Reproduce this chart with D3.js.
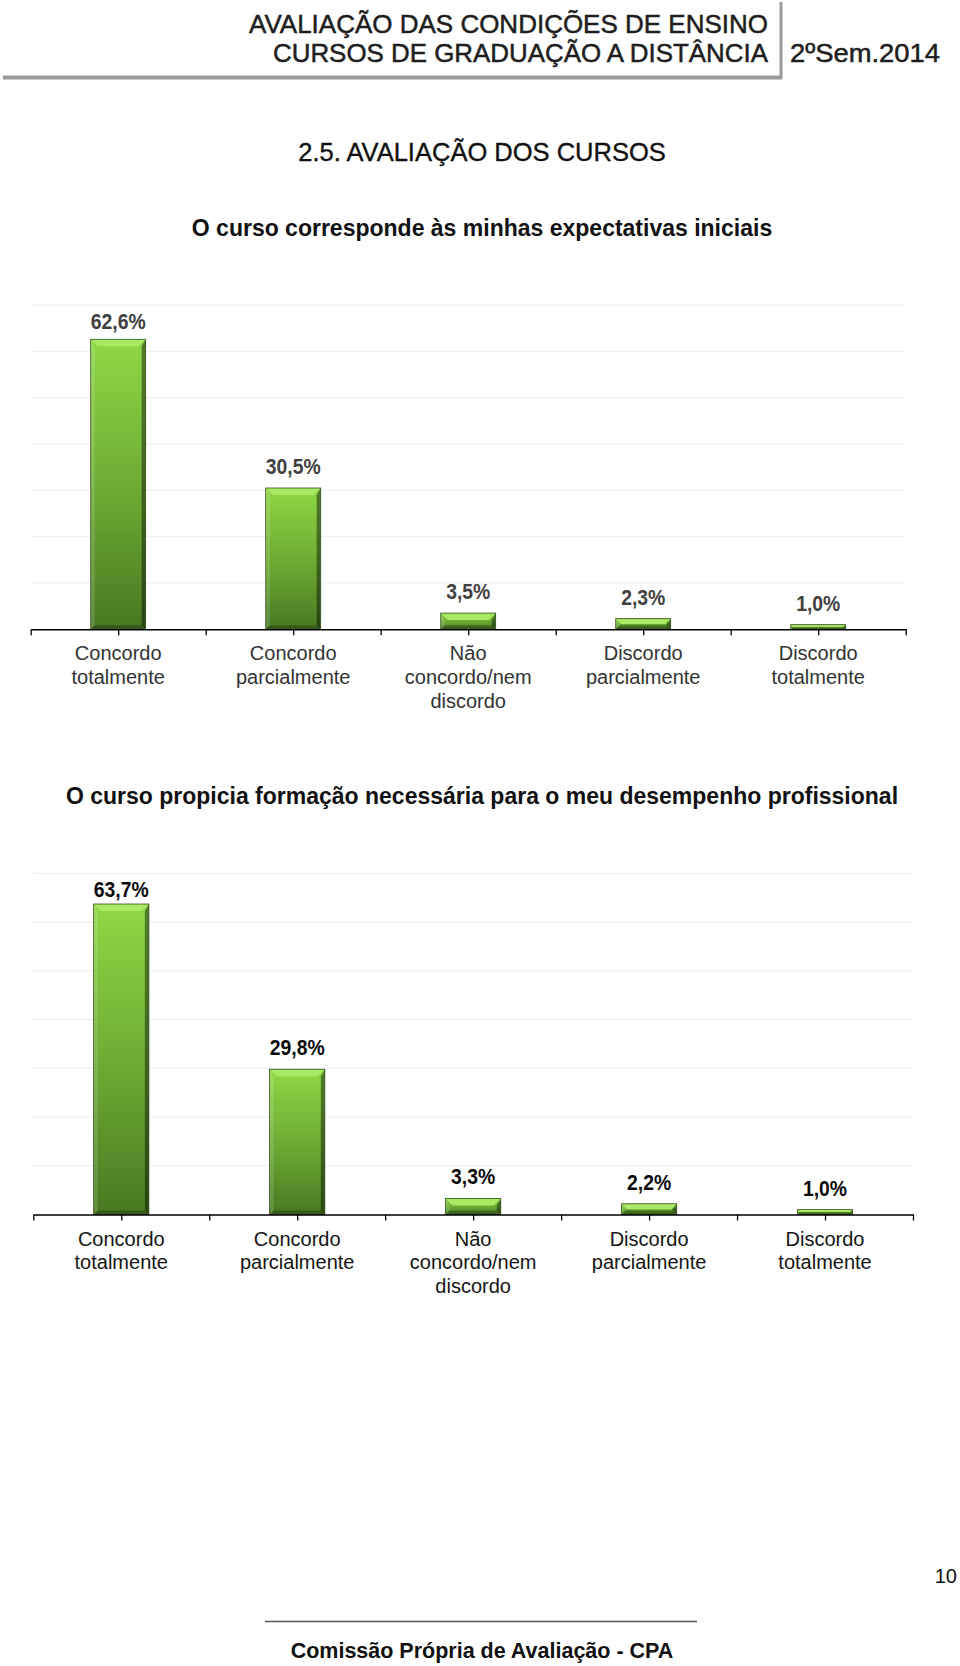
<!DOCTYPE html>
<html>
<head>
<meta charset="utf-8">
<script src="https://cdn.jsdelivr.net/npm/d3@7/dist/d3.min.js"></script>
<style>
  html, body { margin: 0; padding: 0; background: #fff; }
  svg { display: block; font-family: "Liberation Sans", Arial, sans-serif; }
</style>
</head>
<body>
<svg id="page" width="960" height="1666"></svg>
<script>
// chart data
var categories = [
    ['Concordo', 'totalmente'],
    ['Concordo', 'parcialmente'],
    ['Não', 'concordo/nem', 'discordo'],
    ['Discordo', 'parcialmente'],
    ['Discordo', 'totalmente']
];
var valuesExpectativas = [62.6, 30.5, 3.5, 2.3, 1.0];
var valuesFormacao = [63.7, 29.8, 3.3, 2.2, 1.0];
var gridTicks = [10, 20, 30, 40, 50, 60, 70];

var svg = d3.select('#page');

// gradient for bar faces
var defs = svg.append('defs');
var grad = defs.append('linearGradient')
    .attr('id', 'barFace')
    .attr('x1', 0).attr('y1', 0).attr('x2', 0).attr('y2', 1);
grad.append('stop').attr('offset', '0%').attr('stop-color', '#8fd845');
grad.append('stop').attr('offset', '55%').attr('stop-color', '#6aa832');
grad.append('stop').attr('offset', '100%').attr('stop-color', '#487822');

/* header */
var header = svg.append('g').attr('class', 'header')
    .style('fill', '#1e1e1e').style('stroke', '#1e1e1e').style('stroke-width', 0.5);
header.append('text')
    .attr('x', 249).attr('y', 33)
    .attr('textLength', 519).attr('lengthAdjust', 'spacingAndGlyphs')
    .style('font-size', '26.5px')
    .text('AVALIAÇÃO DAS CONDIÇÕES DE ENSINO');
header.append('text')
    .attr('x', 273).attr('y', 62)
    .attr('textLength', 495).attr('lengthAdjust', 'spacingAndGlyphs')
    .style('font-size', '26.5px')
    .text('CURSOS DE GRADUAÇÃO A DISTÂNCIA');
header.append('text')
    .attr('x', 790).attr('y', 62)
    .attr('textLength', 150).attr('lengthAdjust', 'spacingAndGlyphs')
    .style('font-size', '26.5px')
    .text('2ºSem.2014');
svg.append('line')
    .attr('x1', 3).attr('x2', 782).attr('y1', 77.5).attr('y2', 77.5)
    .style('stroke', '#9a9a9a').style('stroke-width', 4);
svg.append('line')
    .attr('x1', 781).attr('x2', 781).attr('y1', 2).attr('y2', 78)
    .style('stroke', '#9a9a9a').style('stroke-width', 3);

svg.append('text')
    .attr('x', 482).attr('y', 161)
    .attr('text-anchor', 'middle')
    .style('font-size', '25.5px').style('fill', '#111')
    .style('stroke', '#111').style('stroke-width', 0.35)
    .text('2.5. AVALIAÇÃO DOS CURSOS');

function drawChart(cfg) {
    var g = svg.append('g').attr('class', 'chart');

    g.append('text')
        .attr('x', 482).attr('y', cfg.titleY)
        .attr('text-anchor', 'middle')
        .style('font-size', '23px').style('font-weight', 'bold').style('fill', '#111')
        .text(cfg.title);

    var x = d3.scaleBand()
        .domain(d3.range(categories.length))
        .range([cfg.x0, cfg.x1])
        .padding(0);
    var y = d3.scaleLinear()
        .domain([0, 70])
        .range([cfg.axisY, cfg.topY]);

    // gridlines
    g.selectAll('.grid')
        .data(gridTicks)
      .enter()
      .append('line')
        .attr('class', 'grid')
        .attr('x1', cfg.x0).attr('x2', cfg.x1)
        .attr('y1', function(d) { return y(d); })
        .attr('y2', function(d) { return y(d); })
        .style('stroke', '#ededed').style('stroke-width', 1);

    // bars with bevel
    var barW = x.bandwidth() * 0.314;
    var bars = g.selectAll('.bar')
        .data(cfg.values)
      .enter()
      .append('g')
        .attr('class', 'bar');

    bars.each(function(v, i) {
        var bx = x(i) + (x.bandwidth() - barW) / 2;
        var by = y(v);
        var bh = cfg.axisY - by;
        var bw = barW;
        var b = Math.min(7, bh / 2);
        var s = Math.min(4, bh / 2);
        var el = d3.select(this);
        el.append('rect')
            .attr('x', bx).attr('y', by)
            .attr('width', bw).attr('height', bh)
            .style('fill', 'url(#barFace)');
        el.append('polygon')
            .attr('points', [[bx, by], [bx + bw, by], [bx + bw - b, by + b], [bx + b, by + b]].join(' '))
            .style('fill', '#a9e964');
        el.append('polygon')
            .attr('points', [[bx, by], [bx + s, by + b], [bx + s, by + bh - s], [bx, by + bh]].join(' '))
            .style('fill', 'rgba(255,255,255,0.15)');
        el.append('polygon')
            .attr('points', [[bx + bw, by], [bx + bw, by + bh], [bx + bw - s, by + bh - s], [bx + bw - s, by + b]].join(' '))
            .style('fill', 'rgba(0,0,0,0.42)');
        el.append('polygon')
            .attr('points', [[bx, by + bh], [bx + bw, by + bh], [bx + bw - s, by + bh - s], [bx + s, by + bh - s]].join(' '))
            .style('fill', 'rgba(0,0,0,0.25)');
        el.append('rect')
            .attr('x', bx).attr('y', by)
            .attr('width', bw).attr('height', bh)
            .style('fill', 'none').style('stroke', '#34511a').style('stroke-width', 0.8);
    });

    // value labels
    g.selectAll('.value')
        .data(cfg.values)
      .enter()
      .append('text')
        .attr('class', 'value')
        .attr('transform', function(d, i) {
            var ly = Math.max(y(d) - 14, cfg.topY + 24);
            return 'translate(' + (x(i) + x.bandwidth() / 2) + ',' + ly + ') scale(0.9,1)';
        })
        .attr('text-anchor', 'middle')
        .style('font-size', '21.5px').style('font-weight', 'bold')
        .style('fill', cfg.valueColor)
        .text(function(d) { return d.toFixed(1).replace('.', ',') + '%'; });

    // axis with ticks at band edges and centers
    var tickScale = d3.scaleLinear().domain([0, categories.length]).range([cfg.x0, cfg.x1]);
    var axis = d3.axisBottom(tickScale)
        .tickValues(d3.range(0, categories.length + 0.5, 0.5))
        .tickFormat('')
        .tickSize(6)
        .tickSizeOuter(0);
    var ax = g.append('g')
        .attr('transform', 'translate(0,' + cfg.axisY + ')')
        .call(axis);
    ax.select('.domain').style('stroke', '#000').style('stroke-width', 1.5);
    ax.selectAll('.tick line').style('stroke', '#000').style('stroke-width', 1.3);

    // category labels
    var labels = g.selectAll('.cat')
        .data(categories)
      .enter()
      .append('text')
        .attr('class', 'cat')
        .attr('text-anchor', 'middle')
        .style('font-size', '20px')
        .style('fill', cfg.catColor);
    labels.each(function(lines, i) {
        var t = d3.select(this);
        lines.forEach(function(line, k) {
            t.append('tspan')
                .attr('x', x(i) + x.bandwidth() / 2)
                .attr('y', cfg.axisY + 31 + k * 23.8)
                .text(line);
        });
    });
}

drawChart({
    title: 'O curso corresponde às minhas expectativas iniciais',
    titleY: 236,
    values: valuesExpectativas,
    x0: 30.7, x1: 905.7,
    topY: 305, axisY: 629.3,
    valueColor: '#404040', catColor: '#333'
});

drawChart({
    title: 'O curso propicia formação necessária para o meu desempenho profissional',
    titleY: 804,
    values: valuesFormacao,
    x0: 33.3, x1: 913,
    topY: 873.3, axisY: 1214.5,
    valueColor: '#0a0a0a', catColor: '#151515'
});

/* footer */
svg.append('text')
    .attr('x', 957).attr('y', 1583)
    .attr('text-anchor', 'end')
    .style('font-size', '20px').style('fill', '#111')
    .text('10');
svg.append('line')
    .attr('x1', 265).attr('x2', 697).attr('y1', 1621.5).attr('y2', 1621.5)
    .style('stroke', '#555').style('stroke-width', 1.5);
svg.append('text')
    .attr('x', 482).attr('y', 1658)
    .attr('text-anchor', 'middle')
    .style('font-size', '21.5px').style('font-weight', 'bold').style('fill', '#111')
    .text('Comissão Própria de Avaliação - CPA');
</script>
</body>
</html>
